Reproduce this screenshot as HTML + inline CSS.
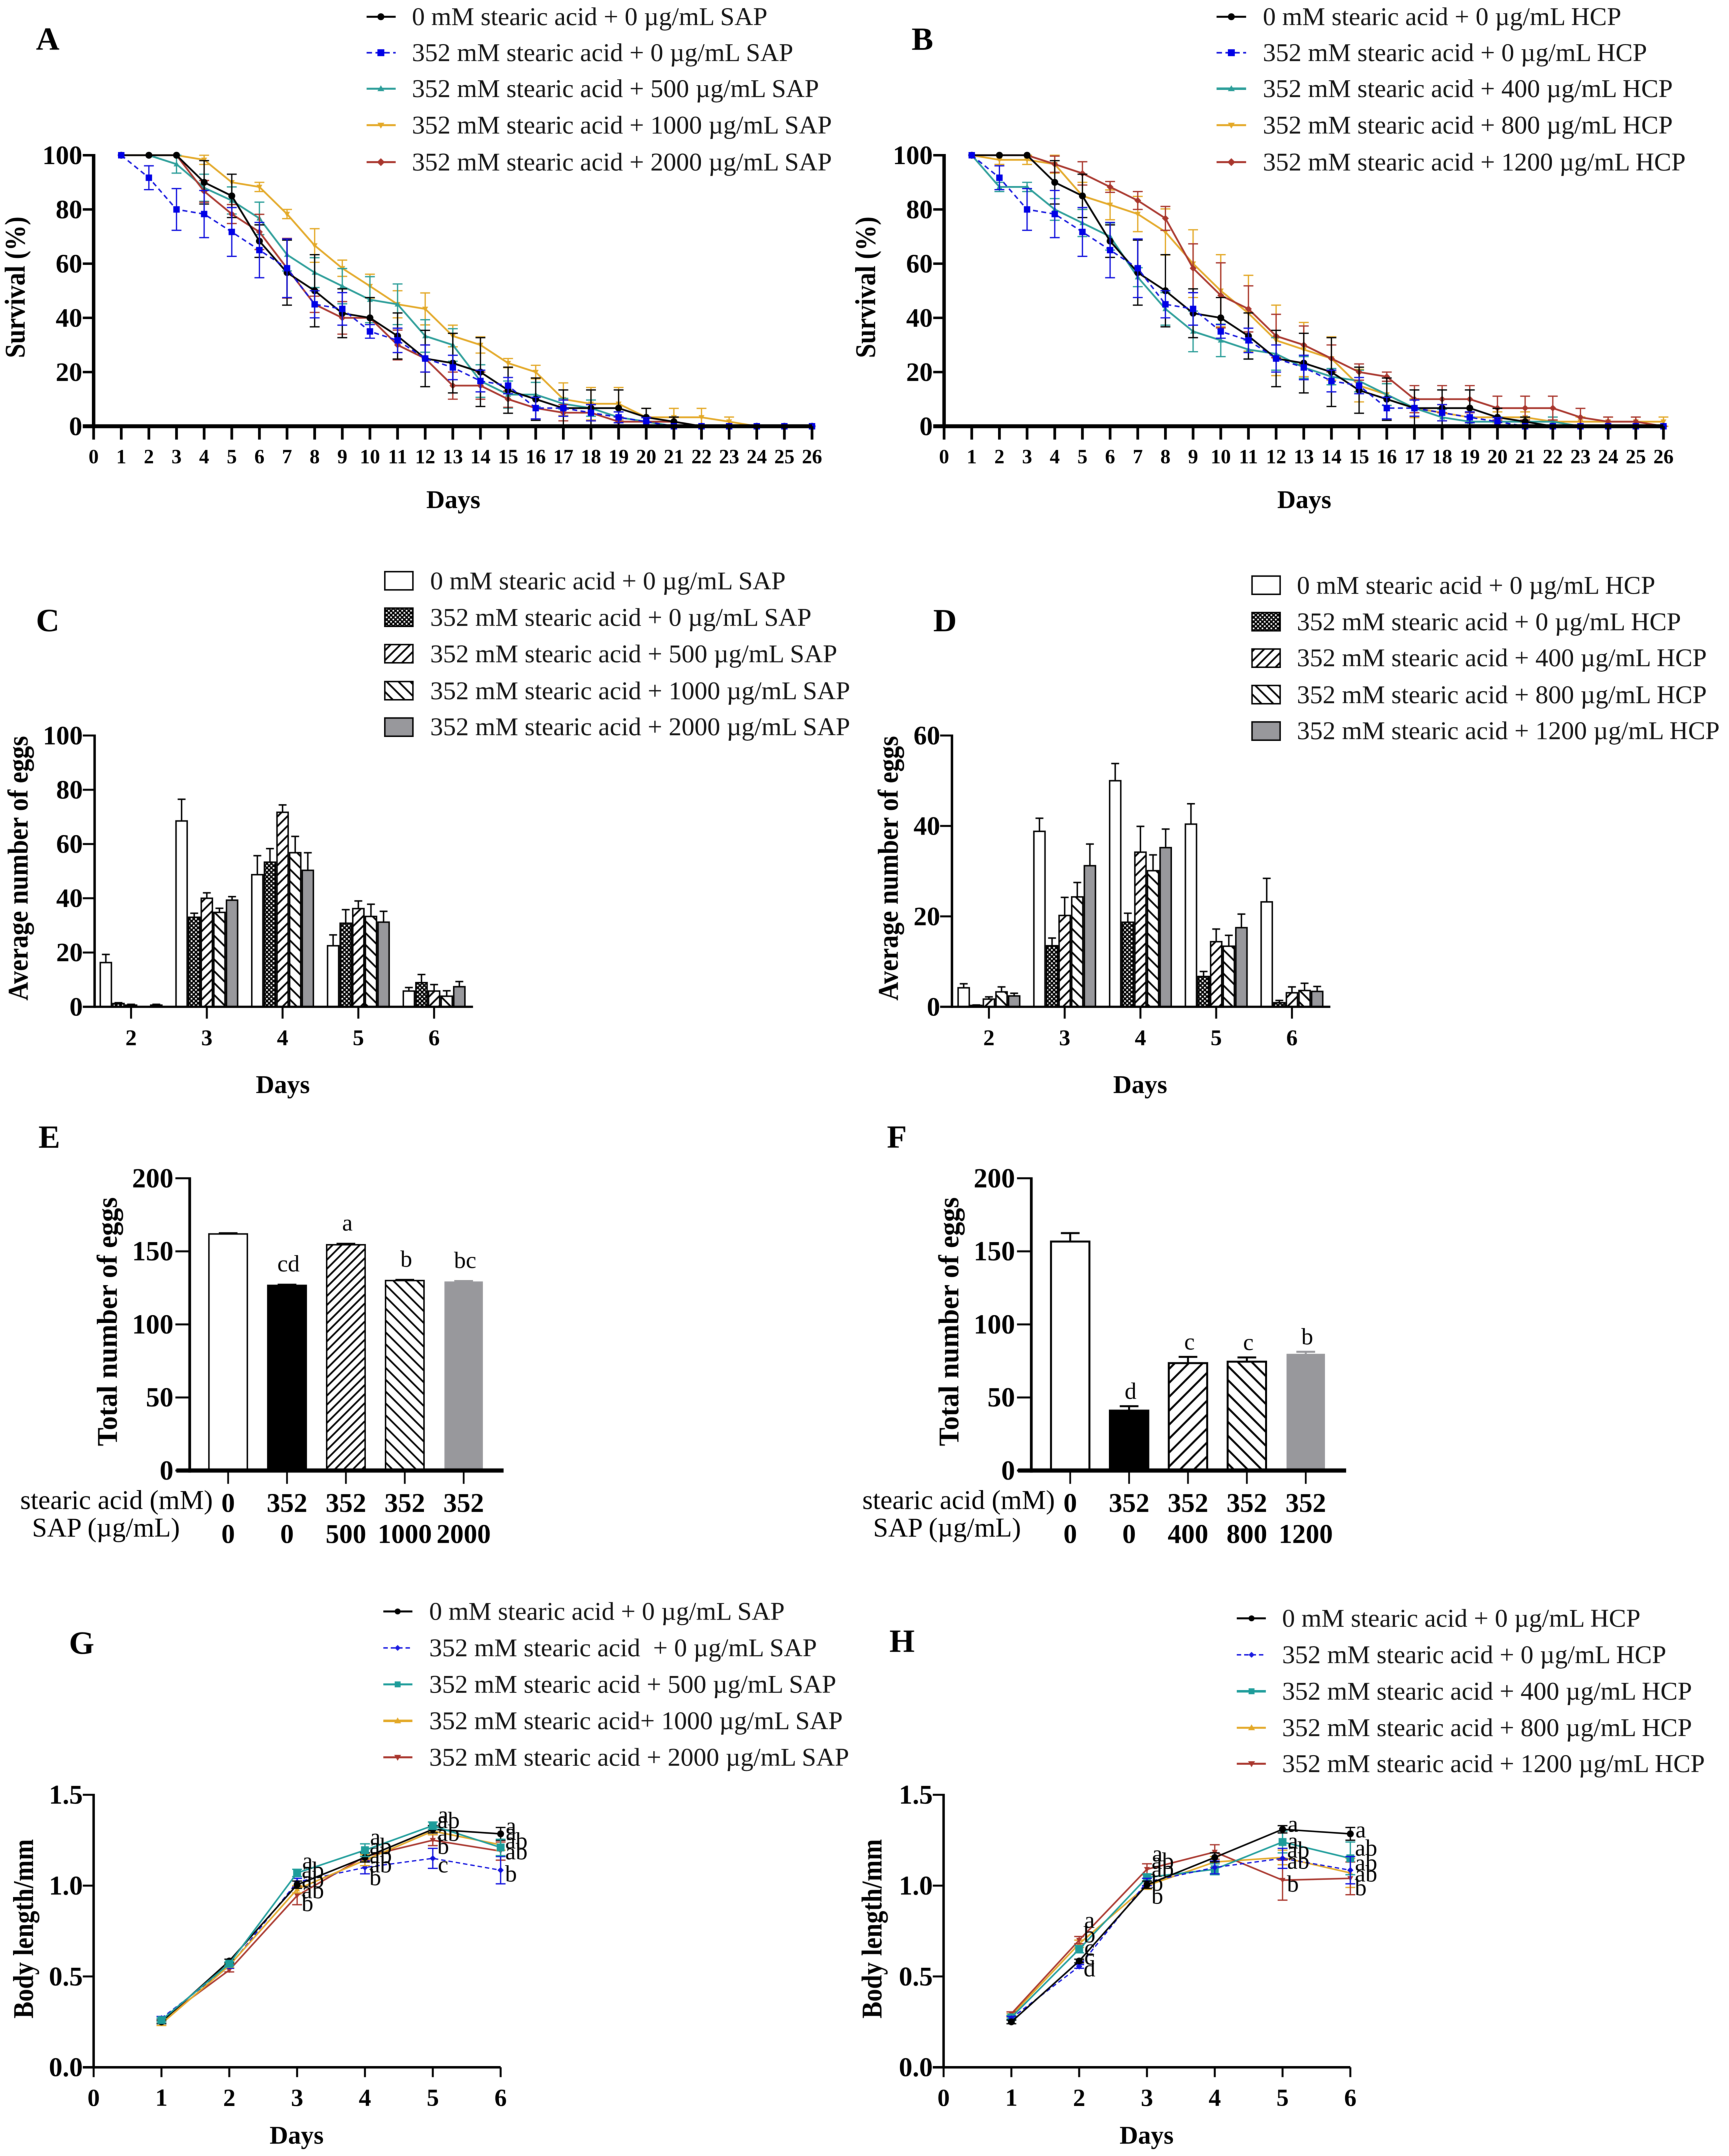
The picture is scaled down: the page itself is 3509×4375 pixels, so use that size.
<!DOCTYPE html>
<html lang="en">
<head>
<meta charset="utf-8">
<title>Survival, egg number and body length panels</title>
<style>
html,body{margin:0;padding:0;background:#fff}
svg{display:block;font-family:"Liberation Serif",serif;fill:#000;filter:blur(0.8px)}
.lg{font-size:52.3px;fill:#111}
.pl{font-size:66px;font-weight:bold}
.at{font-size:52px;font-weight:bold}
.ar{font-size:58px;font-weight:bold}
.rl{font-size:55px}
.rv{font-size:55px;font-weight:bold}
</style>
</head>
<body>
<svg id="figure" xmlns="http://www.w3.org/2000/svg" width="3509" height="4375" viewBox="0 0 3509 4375">
<defs>
<pattern id="checker" width="9" height="9" patternUnits="userSpaceOnUse"><rect width="9" height="9" fill="#000"/><rect x="0" y="0" width="3.4" height="3.4" fill="#fff"/><rect x="4.5" y="4.5" width="3.4" height="3.4" fill="#fff"/></pattern>
<pattern id="hatch-f" width="14" height="14" patternUnits="userSpaceOnUse" patternTransform="rotate(45)"><rect width="14" height="14" fill="#fff"/><rect width="3.5" height="14" fill="#000"/></pattern>
<pattern id="hatch-b" width="17" height="17" patternUnits="userSpaceOnUse" patternTransform="rotate(-45)"><rect width="17" height="17" fill="#fff"/><rect width="3.5" height="17" fill="#000"/></pattern>
<pattern id="hatch-e1" width="13" height="13" patternUnits="userSpaceOnUse" patternTransform="rotate(45)"><rect width="13" height="13" fill="#fff"/><rect width="3.5" height="13" fill="#000"/></pattern>
<pattern id="hatch-e2" width="17" height="17" patternUnits="userSpaceOnUse" patternTransform="rotate(-45)"><rect width="17" height="17" fill="#fff"/><rect width="3.5" height="17" fill="#000"/></pattern>
<pattern id="hatch-f1" width="20" height="20" patternUnits="userSpaceOnUse" patternTransform="rotate(45)"><rect width="20" height="20" fill="#fff"/><rect width="4" height="20" fill="#000"/></pattern>
<pattern id="hatch-f2" width="20" height="20" patternUnits="userSpaceOnUse" patternTransform="rotate(-45)"><rect width="20" height="20" fill="#fff"/><rect width="4" height="20" fill="#000"/></pattern>
</defs>

<!-- Panel letters -->
<text class="pl" x="73" y="101">A</text>
<text class="pl" x="1850" y="101">B</text>
<text class="pl" x="73" y="1281">C</text>
<text class="pl" x="1894" y="1281">D</text>
<text class="pl" x="78" y="2329">E</text>
<text class="pl" x="1800" y="2329">F</text>
<text class="pl" x="140" y="3356">G</text>
<text class="pl" x="1805" y="3352">H</text>

<!-- Axis titles -->
<text class="ar" transform="translate(50,583) rotate(-90)" text-anchor="middle" textLength="287" lengthAdjust="spacingAndGlyphs">Survival (%)</text>
<text class="ar" transform="translate(1776,583) rotate(-90)" text-anchor="middle" textLength="287" lengthAdjust="spacingAndGlyphs">Survival (%)</text>
<text class="ar" transform="translate(56,1762) rotate(-90)" text-anchor="middle" textLength="537" lengthAdjust="spacingAndGlyphs">Average number of eggs</text>
<text class="ar" transform="translate(1822,1762) rotate(-90)" text-anchor="middle" textLength="537" lengthAdjust="spacingAndGlyphs">Average number of eggs</text>
<text class="ar" transform="translate(237,2682) rotate(-90)" text-anchor="middle" textLength="505" lengthAdjust="spacingAndGlyphs">Total number of eggs</text>
<text class="ar" transform="translate(1945,2682) rotate(-90)" text-anchor="middle" textLength="505" lengthAdjust="spacingAndGlyphs">Total number of eggs</text>
<text class="ar" transform="translate(67,3914) rotate(-90)" text-anchor="middle" textLength="364" lengthAdjust="spacingAndGlyphs">Body length/mm</text>
<text class="ar" transform="translate(1789,3914) rotate(-90)" text-anchor="middle" textLength="364" lengthAdjust="spacingAndGlyphs">Body length/mm</text>

<text class="at" x="920" y="1031" text-anchor="middle">Days</text>
<text class="at" x="2647" y="1031" text-anchor="middle">Days</text>
<text class="at" x="574" y="2218" text-anchor="middle">Days</text>
<text class="at" x="2314" y="2218" text-anchor="middle">Days</text>
<text class="at" x="602" y="4350" text-anchor="middle">Days</text>
<text class="at" x="2327" y="4350" text-anchor="middle">Days</text>

<!-- Legend A -->
<g>
<g><line x1="744" x2="803" y1="34" y2="34" stroke="#000" stroke-width="4"/><circle cx="773" cy="34" r="7"/><text class="lg" x="836" y="51">0 mM stearic acid + 0 µg/mL SAP</text></g>
<g><line x1="744" x2="803" y1="107" y2="107" stroke="#1010dd" stroke-width="3.2" stroke-dasharray="11 7"/><path transform="translate(773,107)" d="M-7-7h14v14h-14z" fill="#0000e6"/><text class="lg" x="836" y="124">352 mM stearic acid + 0 µg/mL SAP</text></g>
<g><line x1="744" x2="803" y1="180" y2="180" stroke="#2a9d98" stroke-width="4"/><path transform="translate(773,180)" d="M0-7L7 5H-7z" fill="#2a9d98"/><text class="lg" x="836" y="197">352 mM stearic acid + 500 µg/mL SAP</text></g>
<g><line x1="744" x2="803" y1="254" y2="254" stroke="#e3a826" stroke-width="4"/><path transform="translate(773,254)" d="M0 7L7-5H-7z" fill="#e3a826"/><text class="lg" x="836" y="271">352 mM stearic acid + 1000 µg/mL SAP</text></g>
<g><line x1="744" x2="803" y1="329" y2="329" stroke="#a8352c" stroke-width="4"/><path transform="translate(773,329)" d="M0-8L8 0L0 8L-8 0z" fill="#a8352c"/><text class="lg" x="836" y="346">352 mM stearic acid + 2000 µg/mL SAP</text></g>
</g>
<!-- Legend B -->
<g>
<g><line x1="2469" x2="2529" y1="34" y2="34" stroke="#000" stroke-width="4"/><circle cx="2499" cy="34" r="7"/><text class="lg" x="2563" y="51">0 mM stearic acid + 0 µg/mL HCP</text></g>
<g><line x1="2469" x2="2529" y1="107" y2="107" stroke="#1010dd" stroke-width="3.2" stroke-dasharray="11 7"/><path transform="translate(2499,107)" d="M-7-7h14v14h-14z" fill="#0000e6"/><text class="lg" x="2563" y="124">352 mM stearic acid + 0 µg/mL HCP</text></g>
<g><line x1="2469" x2="2529" y1="180" y2="180" stroke="#2a9d98" stroke-width="5"/><path transform="translate(2499,180)" d="M0-7L7 5H-7z" fill="#2a9d98"/><text class="lg" x="2563" y="197">352 mM stearic acid + 400 µg/mL HCP</text></g>
<g><line x1="2469" x2="2529" y1="254" y2="254" stroke="#e3a826" stroke-width="4"/><path transform="translate(2499,254)" d="M0 7L7-5H-7z" fill="#e3a826"/><text class="lg" x="2563" y="271">352 mM stearic acid + 800 µg/mL HCP</text></g>
<g><line x1="2469" x2="2529" y1="329" y2="329" stroke="#a8352c" stroke-width="4"/><path transform="translate(2499,329)" d="M0-8L8 0L0 8L-8 0z" fill="#a8352c"/><text class="lg" x="2563" y="346">352 mM stearic acid + 1200 µg/mL HCP</text></g>
</g>
<!-- Legend C -->
<g>
<g><rect x="781" y="1160" width="57" height="37" fill="#fff" stroke="#000" stroke-width="3"/><text class="lg" x="873" y="1196">0 mM stearic acid + 0 µg/mL SAP</text></g>
<g><rect x="781" y="1234" width="57" height="37" fill="url(#checker)" stroke="#000" stroke-width="3"/><text class="lg" x="873" y="1270">352 mM stearic acid + 0 µg/mL SAP</text></g>
<g><rect x="781" y="1308" width="57" height="37" fill="url(#hatch-f)" stroke="#000" stroke-width="3"/><text class="lg" x="873" y="1344">352 mM stearic acid + 500 µg/mL SAP</text></g>
<g><rect x="781" y="1383" width="57" height="37" fill="url(#hatch-b)" stroke="#000" stroke-width="3"/><text class="lg" x="873" y="1419">352 mM stearic acid + 1000 µg/mL SAP</text></g>
<g><rect x="781" y="1457" width="57" height="37" fill="#98989c" stroke="#000" stroke-width="3"/><text class="lg" x="873" y="1492">352 mM stearic acid + 2000 µg/mL SAP</text></g>
</g>
<!-- Legend D -->
<g>
<g><rect x="2541" y="1169" width="57" height="37" fill="#fff" stroke="#000" stroke-width="3"/><text class="lg" x="2632" y="1205">0 mM stearic acid + 0 µg/mL HCP</text></g>
<g><rect x="2541" y="1243" width="57" height="37" fill="url(#checker)" stroke="#000" stroke-width="3"/><text class="lg" x="2632" y="1279">352 mM stearic acid + 0 µg/mL HCP</text></g>
<g><rect x="2541" y="1317" width="57" height="37" fill="url(#hatch-f)" stroke="#000" stroke-width="3"/><text class="lg" x="2632" y="1352">352 mM stearic acid + 400 µg/mL HCP</text></g>
<g><rect x="2541" y="1391" width="57" height="37" fill="url(#hatch-b)" stroke="#000" stroke-width="3"/><text class="lg" x="2632" y="1427">352 mM stearic acid + 800 µg/mL HCP</text></g>
<g><rect x="2541" y="1465" width="57" height="37" fill="#98989c" stroke="#000" stroke-width="3"/><text class="lg" x="2632" y="1500">352 mM stearic acid + 1200 µg/mL HCP</text></g>
</g>
<!-- Legend G -->
<g>
<g><line x1="778" x2="837" y1="3270" y2="3270" stroke="#000" stroke-width="4"/><circle cx="807" cy="3270" r="6"/><text class="lg" x="871" y="3287">0 mM stearic acid + 0 µg/mL SAP</text></g>
<g><line x1="778" x2="837" y1="3344" y2="3344" stroke="#1a1ae0" stroke-width="3" stroke-dasharray="9 6"/><path transform="translate(807,3344)" d="M0-6L6 0L0 6L-6 0z" fill="#1a1ae0"/><text class="lg" x="871" y="3361">352 mM stearic acid &#160;+ 0 µg/mL SAP</text></g>
<g><line x1="778" x2="837" y1="3418" y2="3418" stroke="#1d9c9a" stroke-width="4"/><path transform="translate(807,3418)" d="M-6-6h12v12h-12z" fill="#1d9c9a"/><text class="lg" x="871" y="3435">352 mM stearic acid + 500 µg/mL SAP</text></g>
<g><line x1="778" x2="837" y1="3492" y2="3492" stroke="#e3a826" stroke-width="5"/><path transform="translate(807,3492)" d="M0-7L7 5H-7z" fill="#e3a826"/><text class="lg" x="871" y="3509">352 mM stearic acid+ 1000 µg/mL SAP</text></g>
<g><line x1="778" x2="837" y1="3566" y2="3566" stroke="#a8352c" stroke-width="4"/><path transform="translate(807,3566)" d="M0 7L7-5H-7z" fill="#a8352c"/><text class="lg" x="871" y="3583">352 mM stearic acid + 2000 µg/mL SAP</text></g>
</g>
<!-- Legend H -->
<g>
<g><line x1="2510" x2="2569" y1="3284" y2="3284" stroke="#000" stroke-width="4"/><circle cx="2540" cy="3284" r="6"/><text class="lg" x="2602" y="3301">0 mM stearic acid + 0 µg/mL HCP</text></g>
<g><line x1="2510" x2="2569" y1="3358" y2="3358" stroke="#1a1ae0" stroke-width="3" stroke-dasharray="9 6"/><path transform="translate(2540,3358)" d="M0-6L6 0L0 6L-6 0z" fill="#1a1ae0"/><text class="lg" x="2602" y="3375">352 mM stearic acid + 0 µg/mL HCP</text></g>
<g><line x1="2510" x2="2569" y1="3432" y2="3432" stroke="#1d9c9a" stroke-width="5"/><path transform="translate(2540,3432)" d="M-6-6h12v12h-12z" fill="#1d9c9a"/><text class="lg" x="2602" y="3449">352 mM stearic acid + 400 µg/mL HCP</text></g>
<g><line x1="2510" x2="2569" y1="3506" y2="3506" stroke="#e3a826" stroke-width="4"/><path transform="translate(2540,3506)" d="M0-7L7 5H-7z" fill="#e3a826"/><text class="lg" x="2602" y="3523">352 mM stearic acid + 800 µg/mL HCP</text></g>
<g><line x1="2510" x2="2569" y1="3579" y2="3579" stroke="#a8352c" stroke-width="4"/><path transform="translate(2540,3579)" d="M0 7L7-5H-7z" fill="#a8352c"/><text class="lg" x="2602" y="3596">352 mM stearic acid + 1200 µg/mL HCP</text></g>
</g>

<!-- Row labels E / F -->
<text class="rl" x="41" y="3062">stearic acid (mM)</text>
<text class="rl" x="65" y="3118">SAP (µg/mL)</text>
<text class="rl" x="1750" y="3062">stearic acid (mM)</text>
<text class="rl" x="1772" y="3118">SAP (µg/mL)</text>

<g id="chart-a"></g>
<g id="chart-b"></g>
<g id="chart-c"></g>
<g id="chart-d"></g>
<g id="chart-e"></g>
<g id="chart-f"></g>
<g id="chart-g"></g>
<g id="chart-h"></g>
</svg>

<script>
// ---------- Survival data (panels A, B) ----------
const survivalDays = [1,2,3,4,5,6,7,8,9,10,11,12,13,14,15,16,17,18,19,20,21,22,23,24,25,26];
const survivalXLabels = ['0','1','2','3','4','5','6','7','8','9','10','11','12','13','14','15','16','17','18','19','20','21','22','23','24','25','26'];
const survivalYLabels = ['0','20','40','60','80','100'];

const survControl = [100,100,100,90,85,68.3,56.7,50,41.7,40,33.3,25,23.3,20,13.3,10,6.7,6.7,6.7,3.3,1.7,0,0,0,0,0];
const survControlErr = [0,0,0,8,8,6,12,13.3,9,7.5,8.5,10.4,11,12.7,8.5,7.8,6.7,6.7,6.7,3.3,1.7,0,0,0,0,0];
const survStearic = [100,91.7,80,78.3,71.7,65,58.3,45,43.3,35,31.7,25,21.7,16.7,15,6.7,6.7,5,3.3,1.7,0,0,0,0,0,0];
const survStearicErr = [0,4.4,7.7,8.7,9,10.2,10.8,5,6,2.5,4.5,5,4.5,4,3,4,3,3,2,1.5,0,0,0,0,0,0];

const survSap500 = [100,100,96.7,88,83.3,76.7,63.3,56.7,51.7,46.7,45,33.3,30,16.7,11.7,11.7,8.3,6.7,3.3,1.7,0,0,0,0,0,0];
const survSap500Err = [0,0,3.3,5,5,6,6,5.5,6.5,8.5,7.5,6,6,6,5,4.5,2,3,2,1.5,0,0,0,0,0,0];
const survSap1000 = [100,100,100,98.3,90,88.3,78.3,66.7,58.3,51.7,45,43.3,33.3,30,23.3,20,10,8.3,8.3,3.3,3.3,3.3,1.7,0,0,0];
const survSap1000Err = [0,0,0,1.7,0,1.7,1.7,6.2,3,4.4,5,5.9,4,3,1.7,2.5,6,6,6,3.3,3.3,3.3,1.7,0,0,0];
const survSap2000 = [100,100,100,86.7,78.3,71.7,58.3,45,40,40,30,25,15,15,10,6.7,5,5,1.7,1.7,1.7,0,0,0,0,0];
const survSap2000Err = [0,0,0,4,3.5,6.5,11,3,6,0,5.5,5,5,5,3,4,3,3,1.7,1.7,1.7,0,0,0,0,0];

const survHcp400 = [100,88.3,88.3,80,75,70,55,43.3,35,31.7,28.3,26.7,21.7,18.3,16.7,11.7,6.7,3.3,1.7,1.7,1.7,1.7,0,0,0,0];
const survHcp400Err = [0,1.7,1.7,4,5,5,3.5,6,7.5,6,3.5,6,4,3,4,4,3,3,1.7,1.7,1.7,1.7,0,0,0,0];
const survHcp800 = [100,98.3,98.3,96.7,85,81.7,78.3,71.7,60,50,41.7,31.7,28.3,25,15,11.7,6.7,5,3.3,3.3,3.3,1.7,1.7,1.7,1.7,1.7];
const survHcp800Err = [0,1.7,1.7,3.3,5,5.5,6.5,8.5,12.5,13.3,14,13,10,8,6,4,3.5,3,2,2,2,1.7,1.7,1.7,1.7,1.7];
const survHcp1200 = [100,100,100,96.7,93.3,88.3,83.3,76.7,58.3,48.3,43.3,33.3,30,25,20,18.3,10,10,10,6.7,6.7,6.7,3.3,1.7,1.7,0];
const survHcp1200Err = [0,0,0,3,4.3,2,3.3,4.4,9,12,8.5,8,7,5,3,1.7,5,5,5,4.4,4.4,4.4,3.3,1.7,1.7,0];

// ---------- Average eggs per day (panels C, D) ----------
const eggDayLabels = ['2','3','4','5','6'];
const eggCYLabels = ['0','20','40','60','80','100'];
const eggDYLabels = ['0','20','40','60'];

const eggCControl = [16.3,68.5,48.7,22.5,5.8];
const eggCControlErr = [3,8,7,4,1.3];
const eggCStearic = [1.2,33,53.3,30.8,8.9];
const eggCStearicErr = [0.3,1.5,5,5,3];
const eggCSap500 = [0.6,40,71.7,36.2,5.8];
const eggCSap500Err = [0.3,2,2.7,2.8,2.4];
const eggCSap1000 = [0,34.8,56.8,33.3,3.9];
const eggCSap1000Err = [0,1.5,6,4.5,2];
const eggCSap2000 = [0.6,39.3,50.3,31.2,7.4];
const eggCSap2000Err = [0.3,1.3,6.5,4,1.9];

const eggDControl = [4.2,38.8,50,40.4,23.2];
const eggDControlErr = [0.9,2.9,3.8,4.5,5.2];
const eggDStearic = [0.3,13.5,18.7,6.7,0.9];
const eggDStearicErr = [0.1,1.7,2,1.1,0.5];
const eggDHcp400 = [1.7,20.2,34.2,14.4,3.1];
const eggDHcp400Err = [0.5,4,5.7,2.8,1.3];
const eggDHcp800 = [3.3,24.3,30.1,13.4,3.6];
const eggDHcp800Err = [1.1,3.2,3.5,2.4,1.6];
const eggDHcp1200 = [2.4,31.2,35.2,17.5,3.4];
const eggDHcp1200Err = [0.6,4.8,4.1,3,1.1];

// ---------- Total eggs (panels E, F) ----------
const totalYLabels = ['0','50','100','150','200'];
const totalEValues = [161.9,126.7,154.5,130,129.4];
const totalEErr = [0.5,0.5,0.7,0.5,0.3];
const totalELetters = ['','cd','a','b','bc'];
const totalEStearic = ['0','352','352','352','352'];
const totalEDose = ['0','0','500','1000','2000'];

const totalFValues = [156.7,41,73.5,74.5,79.9];
const totalFErr = [5.8,3,4.3,2.9,1.4];
const totalFLetters = ['','d','c','c','b'];
const totalFStearic = ['0','352','352','352','352'];
const totalFDose = ['0','0','400','800','1200'];

// ---------- Body length (panels G, H) ----------
const lengthDays = [1,2,3,4,5,6];
const lengthXLabels = ['0','1','2','3','4','5','6'];
const lengthYLabels = ['0.0','0.5','1.0','1.5'];

const lenControl = [0.25,0.585,1.005,1.155,1.31,1.285];
const lenControlErr = [0.01,0.01,0.02,0.025,0.02,0.035];
const lenStearic = [0.27,0.555,1.02,1.10,1.15,1.085];
const lenStearicErr = [0.01,0.01,0.02,0.035,0.055,0.075];

const lenSap500 = [0.26,0.57,1.07,1.195,1.33,1.21];
const lenSap500Err = [0.01,0.01,0.02,0.035,0.02,0.045];
const lenSap1000 = [0.24,0.56,0.98,1.14,1.30,1.225];
const lenSap1000Err = [0.01,0.01,0.02,0.03,0.02,0.03];
const lenSap2000 = [0.26,0.535,0.945,1.16,1.25,1.19];
const lenSap2000Err = [0.01,0.01,0.05,0.02,0.03,0.05];

const lenHcp400 = [0.275,0.65,1.045,1.09,1.24,1.15];
const lenHcp400Err = [0.01,0.02,0.02,0.03,0.06,0.09];
const lenHcp800 = [0.285,0.68,1.00,1.13,1.155,1.07];
const lenHcp800Err = [0.01,0.02,0.02,0.03,0.04,0.08];
const lenHcp1200 = [0.295,0.70,1.09,1.185,1.03,1.04];
const lenHcp1200Err = [0.01,0.02,0.03,0.04,0.11,0.09];

const gLetterText = ['a','ab','ab','ab','b', 'a','ab','ab','ab','b', 'a','ab','ab','b','c', 'a','a','ab','ab','b'];
const gLetterDays = [3,3,3,3,3, 4,4,4,4,4, 5,5,5,5,5, 6,6,6,6,6];
const gLetterValues = [1.094,1.043,0.992,0.931,0.86, 1.226,1.175,1.124,1.073,1.002, 1.348,1.317,1.246,1.175,1.073, 1.287,1.252,1.205,1.144,1.022];

const hLetterText = ['a','b','c','c','d', 'a','ab','ab','b','b', 'a','a','ab','ab','b', 'a','ab','ab','ab','b'];
const hLetterDays = [2,2,2,2,2, 3,3,3,3,3, 5,5,5,5,5, 6,6,6,6,6];
const hLetterValues = [0.768,0.687,0.616,0.565,0.5, 1.134,1.093,1.049,0.972,0.90, 1.297,1.205,1.154,1.093,0.967, 1.266,1.165,1.083,1.022,0.947];

// ---------- Styling (separate from the data) ----------
const BLACK = '#000000', BLUE = '#1010dd', TEAL = '#2a9d98', GOLD = '#e3a826', RED = '#a8352c';
const NS = 'http://www.w3.org/2000/svg';

function mk(tag, attrs, parent) {
  const n = document.createElementNS(NS, tag);
  for (const k in attrs) n.setAttribute(k, attrs[k]);
  parent.appendChild(n);
  return n;
}
function linear(d0, d1, r0, r1) {
  return v => r0 + (v - d0) * (r1 - r0) / (d1 - d0);
}
function marker(parent, shape, x, y, r, color) {
  if (shape === 'circle') return mk('circle', {cx: x, cy: y, r: r, fill: color}, parent);
  const paths = {
    square: `M${x-r} ${y-r}h${2*r}v${2*r}h${-2*r}z`,
    diamond: `M${x} ${y-r*1.15}L${x+r*1.15} ${y}L${x} ${y+r*1.15}L${x-r*1.15} ${y}z`,
    tri: `M${x} ${y-r}L${x+r} ${y+r*0.75}H${x-r}z`,
    itri: `M${x} ${y+r}L${x+r} ${y-r*0.75}H${x-r}z`
  };
  return mk('path', {d: paths[shape], fill: color}, parent);
}

function drawAxes(g, p, xLabels, yLabels, xAt) {
  const sy = linear(0, p.yMax, p.bottom, p.top);
  yLabels.forEach(lbl => {
    const v = Number(lbl), y = sy(v);
    const tick = mk('line', {x1: p.left - p.yTickLen, x2: p.left, y1: y, y2: y, stroke: '#000', 'stroke-width': p.yTickW}, g);
    
    
    const t = mk('text', {x: p.left - p.yTickLen - p.yLabelGap, y: y + p.yFont * 0.33, 'text-anchor': 'end', 'font-size': p.yFont, 'font-weight': 'bold'}, g);
    t.textContent = lbl;
    
    
  });
  xLabels.forEach((lbl, i) => {
    const x = xAt(lbl, i);
    const tick = mk('line', {x1: x, x2: x, y1: p.bottom, y2: p.bottom + p.xTickLen, stroke: '#000', 'stroke-width': p.xTickW}, g);
    
    
    if (p.xLabelY) {
      const t = mk('text', {x: x, y: p.xLabelY, 'text-anchor': 'middle', 'font-size': p.xFont, 'font-weight': 'bold'}, g);
      t.textContent = lbl;
      
      
    }
  });
  const yAxis = mk('line', {x1: p.left, x2: p.left, y1: p.top - p.yTickW / 2, y2: p.bottom + p.baseW / 2, stroke: '#000', 'stroke-width': p.axisW}, g);
  
  
  const xAxis = mk('line', {x1: p.baseLeft, x2: p.right, y1: p.bottom, y2: p.bottom, stroke: '#000', 'stroke-width': p.baseW}, g);
  
  
}

function drawSeries(g, p, days, series) {
  const sx = linear(0, p.xMax, p.left, p.right);
  const sy = linear(0, p.yMax, p.bottom, p.top);
  series.forEach(s => {
    s.err.forEach((e, i) => {
      if (!e) return;
      const x = sx(days[i]), hi = sy(s.values[i] + e), lo = sy(Math.max(0, s.values[i] - e));
      const bar = mk('path', {d: `M${x} ${hi}V${lo}M${x-p.cap} ${hi}H${x+p.cap}M${x-p.cap} ${lo}H${x+p.cap}`, stroke: s.color, 'stroke-width': p.errW, fill: 'none'}, g);
      
      
    });
    const d = s.values.map((v, i) => (i ? 'L' : 'M') + sx(days[i]) + ' ' + sy(v)).join('');
    const path = mk('path', {d: d, fill: 'none', stroke: s.color, 'stroke-width': s.dash ? p.lineW - 0.6 : p.lineW, 'stroke-dasharray': s.dash || 'none', 'stroke-linejoin': 'round'}, g);
    
    
    s.values.forEach((v, i) => {
      const m = marker(g, s.shape, sx(days[i]), sy(v), s.r, s.markColor || s.color);
      
      
    });
  });
}

function drawLetters(g, p, text, days, values) {
  const sx = linear(0, p.xMax, p.left, p.right);
  const sy = linear(0, p.yMax, p.bottom, p.top);
  text.forEach((s, i) => {
    const t = mk('text', {x: sx(days[i]) + (s.length > 1 ? 32 : 21), y: sy(values[i]), 'text-anchor': 'middle', 'font-size': 48}, g);
    t.textContent = s;
    
    
  });
}

function drawGroupedBars(g, p, series) {
  const sy = linear(0, p.yMax, p.bottom, p.top);
  const n = series.length;
  series.forEach((s, j) => {
    s.values.forEach((v, i) => {
      const cx = p.first + i * p.step + (j - (n - 1) / 2) * p.barW;
      if (s.err[i]) {
        const top = sy(v + s.err[i]);
        const eb = mk('path', {d: `M${cx} ${sy(v)}V${top}M${cx - 8} ${top}H${cx + 8}`, stroke: s.errColor || '#000', 'stroke-width': 3, fill: 'none'}, g);
        
        
      }
      const inset = s.stroke === 'none' ? 0 : 1.5;
      const r = mk('rect', {x: cx - p.barW / 2 + inset, y: sy(v), width: p.barW - 2 * inset, height: Math.max(0, p.bottom - sy(v)), fill: s.fill, stroke: s.stroke, 'stroke-width': 3}, g);
      
      
    });
  });
}

function drawTotalBars(g, p, values, err, fills, strokes, letters, stearic, dose) {
  const sy = linear(0, p.yMax, p.bottom, p.top);
  values.forEach((v, i) => {
    const cx = p.first + i * p.step;
    const top = sy(v + err[i]);
    const eb = mk('path', {d: `M${cx} ${sy(v)}V${top}M${cx - 19} ${top}H${cx + 19}`, stroke: strokes[i] === 'none' ? '#98989c' : '#000', 'stroke-width': 4, fill: 'none'}, g);
    
    
    const r = mk('rect', {x: cx - p.barW / 2, y: sy(v), width: p.barW, height: p.bottom - sy(v), fill: fills[i], stroke: strokes[i], 'stroke-width': p.barStroke}, g);
    
    
    if (letters[i]) {
      const t = mk('text', {x: cx + 3, y: sy(v + err[i] + p.letterGap), 'text-anchor': 'middle', 'font-size': 48}, g);
      t.textContent = letters[i];
      
      
    }
    const a = mk('text', {x: cx, y: p.row1Y, 'text-anchor': 'middle', 'class': 'rv'}, g);
    a.textContent = stearic[i];
    
    
    const b = mk('text', {x: cx, y: p.row2Y, 'text-anchor': 'middle', 'class': 'rv'}, g);
    b.textContent = dose[i];
    
    
  });
}

// ---------- Panels ----------
const survivalBase = {top: 315, bottom: 865, xMax: 26, yMax: 100, axisW: 7, baseW: 8, yTickW: 5, yTickLen: 22, xTickW: 5.5, xTickLen: 27, yFont: 54, xFont: 41, xLabelY: 940, yLabelGap: 1, lineW: 3.6, errW: 2.6, cap: 10};
const panelA = Object.assign({}, survivalBase, {left: 190, right: 1648, baseLeft: 168});
const panelB = Object.assign({}, survivalBase, {left: 1916, right: 3376, baseLeft: 1894});

const chartA = document.getElementById('chart-a');
drawSeries(chartA, panelA, survivalDays, [
  {values: survSap1000, err: survSap1000Err, color: GOLD, shape: 'itri', r: 6},
  {values: survSap500, err: survSap500Err, color: TEAL, shape: 'tri', r: 6},
  {values: survSap2000, err: survSap2000Err, color: RED, shape: 'diamond', r: 6},
  {values: survControl, err: survControlErr, color: BLACK, shape: 'circle', r: 7},
  {values: survStearic, err: survStearicErr, color: BLUE, shape: 'square', r: 6.5, dash: '10 7', markColor: '#0000e6'}
]);
drawAxes(chartA, panelA, survivalXLabels, survivalYLabels, lbl => linear(0, 26, panelA.left, panelA.right)(Number(lbl)));

const chartB = document.getElementById('chart-b');
drawSeries(chartB, panelB, survivalDays, [
  {values: survHcp800, err: survHcp800Err, color: GOLD, shape: 'itri', r: 6},
  {values: survHcp400, err: survHcp400Err, color: TEAL, shape: 'tri', r: 6},
  {values: survHcp1200, err: survHcp1200Err, color: RED, shape: 'diamond', r: 6},
  {values: survControl, err: survControlErr, color: BLACK, shape: 'circle', r: 7},
  {values: survStearic, err: survStearicErr, color: BLUE, shape: 'square', r: 6.5, dash: '10 7', markColor: '#0000e6'}
]);
drawAxes(chartB, panelB, survivalXLabels, survivalYLabels, lbl => linear(0, 26, panelB.left, panelB.right)(Number(lbl)));

const eggBase = {top: 1492.5, bottom: 2043, axisW: 5, baseW: 4.5, yTickW: 4, yTickLen: 24, xTickW: 4, xTickLen: 24, yFont: 54, xFont: 46, xLabelY: 2121, yLabelGap: 0, barW: 25.6, step: 153.75};
const panelC = Object.assign({}, eggBase, {left: 192, right: 960, baseLeft: 168, yMax: 100, first: 266});
const panelD = Object.assign({}, eggBase, {left: 1932, right: 2700, baseLeft: 1908, yMax: 60, first: 2007});

const chartC = document.getElementById('chart-c');
drawGroupedBars(chartC, panelC, [
  {values: eggCControl, err: eggCControlErr, fill: '#fff', stroke: '#000'},
  {values: eggCStearic, err: eggCStearicErr, fill: 'url(#checker)', stroke: '#000'},
  {values: eggCSap500, err: eggCSap500Err, fill: 'url(#hatch-f)', stroke: '#000'},
  {values: eggCSap1000, err: eggCSap1000Err, fill: 'url(#hatch-b)', stroke: '#000'},
  {values: eggCSap2000, err: eggCSap2000Err, fill: '#98989c', stroke: '#000'}
]);
drawAxes(chartC, panelC, eggDayLabels, eggCYLabels, (lbl, i) => panelC.first + i * panelC.step);

const chartD = document.getElementById('chart-d');
drawGroupedBars(chartD, panelD, [
  {values: eggDControl, err: eggDControlErr, fill: '#fff', stroke: '#000'},
  {values: eggDStearic, err: eggDStearicErr, fill: 'url(#checker)', stroke: '#000'},
  {values: eggDHcp400, err: eggDHcp400Err, fill: 'url(#hatch-f)', stroke: '#000'},
  {values: eggDHcp800, err: eggDHcp800Err, fill: 'url(#hatch-b)', stroke: '#000'},
  {values: eggDHcp1200, err: eggDHcp1200Err, fill: '#98989c', stroke: '#000'}
]);
drawAxes(chartD, panelD, eggDayLabels, eggDYLabels, (lbl, i) => panelD.first + i * panelD.step);

const totalBase = {top: 2391, bottom: 2984, yMax: 200, axisW: 5.5, baseW: 8.5, yTickW: 4, yTickLen: 29, xTickW: 3.5, xTickLen: 27, yFont: 56, yLabelGap: 4, xLabelY: 0, barW: 78, step: 119.5, barStroke: 3, row1Y: 3068, row2Y: 3131};
const panelE = Object.assign({}, totalBase, {left: 385, right: 1022, baseLeft: 358, first: 463, letterGap: 9});
const panelF = Object.assign({}, totalBase, {left: 2093, right: 2732, baseLeft: 2066, first: 2172, letterGap: 5, barStroke: 4});

const chartE = document.getElementById('chart-e');
drawTotalBars(chartE, panelE, totalEValues, totalEErr,
  ['#fff', '#000', 'url(#hatch-e1)', 'url(#hatch-e2)', '#98989c'],
  ['#000', '#000', '#000', '#000', 'none'],
  totalELetters, totalEStearic, totalEDose);
drawAxes(chartE, panelE, totalEStearic, totalYLabels, (lbl, i) => panelE.first + i * panelE.step);

const chartF = document.getElementById('chart-f');
drawTotalBars(chartF, panelF, totalFValues, totalFErr,
  ['#fff', '#000', 'url(#hatch-f1)', 'url(#hatch-f2)', '#98989c'],
  ['#000', '#000', '#000', '#000', 'none'],
  totalFLetters, totalFStearic, totalFDose);
drawAxes(chartF, panelF, totalFStearic, totalYLabels, (lbl, i) => panelF.first + i * panelF.step);

const lengthBase = {top: 3642, bottom: 4195, xMax: 6, yMax: 1.5, axisW: 5, baseW: 5, yTickW: 4, yTickLen: 22, xTickW: 4, xTickLen: 20, yFont: 55, xFont: 50, xLabelY: 4273, yLabelGap: 0, lineW: 3.2, errW: 2.6, cap: 10};
const panelG = Object.assign({}, lengthBase, {left: 190, right: 1016, baseLeft: 168});
const panelH = Object.assign({}, lengthBase, {left: 1915, right: 2740.5, baseLeft: 1893});

const chartG = document.getElementById('chart-g');
drawSeries(chartG, panelG, lengthDays, [
  {values: lenSap2000, err: lenSap2000Err, color: RED, shape: 'itri', r: 6},
  {values: lenStearic, err: lenStearicErr, color: BLUE, shape: 'diamond', r: 5.5, dash: '9 6'},
  {values: lenSap1000, err: lenSap1000Err, color: GOLD, shape: 'tri', r: 6},
  {values: lenControl, err: lenControlErr, color: BLACK, shape: 'circle', r: 7},
  {values: lenSap500, err: lenSap500Err, color: '#1d9c9a', shape: 'square', r: 8}
]);
drawAxes(chartG, panelG, lengthXLabels, lengthYLabels, lbl => linear(0, 6, panelG.left, panelG.right)(Number(lbl)));
drawLetters(chartG, panelG, gLetterText, gLetterDays, gLetterValues);

const chartH = document.getElementById('chart-h');
drawSeries(chartH, panelH, lengthDays, [
  {values: lenHcp800, err: lenHcp800Err, color: GOLD, shape: 'tri', r: 6},
  {values: lenHcp1200, err: lenHcp1200Err, color: RED, shape: 'itri', r: 6},
  {values: lenHcp400, err: lenHcp400Err, color: '#1d9c9a', shape: 'square', r: 8},
  {values: lenStearic, err: lenStearicErr, color: BLUE, shape: 'diamond', r: 5.5, dash: '9 6'},
  {values: lenControl, err: lenControlErr, color: BLACK, shape: 'circle', r: 7}
]);
drawAxes(chartH, panelH, lengthXLabels, lengthYLabels, lbl => linear(0, 6, panelH.left, panelH.right)(Number(lbl)));
drawLetters(chartH, panelH, hLetterText, hLetterDays, hLetterValues);
</script>
</body>
</html>
